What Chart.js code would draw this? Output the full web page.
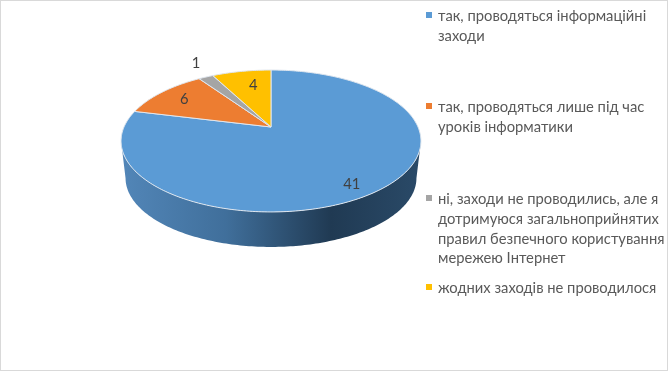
<!DOCTYPE html>
<html>
<head>
<meta charset="utf-8">
<script src="https://cdn.jsdelivr.net/npm/chart.js@4"></script>
<style>
  html, body { margin: 0; background: #fff; }
  #wrap { position: relative; width: 668px; height: 371px; overflow: hidden; }
  #wrap canvas { position: absolute; left: 0; top: 0; }
  #frame { position: absolute; left: 0; top: 0; width: 666px; height: 369px; border: 1px solid #d9d9d9; }
  .lg { position: absolute; left: 438px; font: 14.75px Lato, "Open Sans", sans-serif; color: #595959; line-height: 19.8px; white-space: nowrap; }
  .lg i { position: absolute; left: -12px; top: 6px; width: 6px; height: 6px; }
</style>
</head>
<body>
<div id="wrap">
  <canvas id="c" width="668" height="371"></canvas>
  <div id="frame"></div>
</div>
<script>
const categorias = [
  'так, проводяться інформаційні заходи',
  'так, проводяться лише під час уроків інформатики',
  'ні, заходи не проводились, але я дотримуюся загальноприйнятих правил безпечного користування мережею Інтернет',
  'жодних заходів не проводилося'
];
const valores = [41, 6, 1, 4];
const cores = ['#5b9bd5', '#ed7d31', '#a5a5a5', '#ffc000'];

// quebras de linha e topo de cada item da legenda
const linhasLegenda = [
  ['так, проводяться інформаційні', 'заходи'],
  ['так, проводяться лише під час', 'уроків інформатики'],
  ['ні, заходи не проводились, але я', 'дотримуюся загальноприйнятих', 'правил безпечного користування', 'мережею Інтернет'],
  ['жодних заходів не проводилося']
];
const topoLegenda = [6, 97, 189, 278];

// distancia radial de cada rotulo (1 = borda da pizza) e ajuste fino em px
const raioRotulo = [0.85, 0.78, 1.2, 0.7];
const ajusteRotulo = [[-8, 5], [0, 0], [1, -5.5], [4, -1]];

// perspectiva da tampa e da base
const tampa = { cx: 271, cy: 127, bx: 147, ay: 68.2, k: 0.197 };
const base = { cx: 271, cy: 164.5, bx: 142.6, ay: 66.2, k: 0.197 };
const angSilhueta = 0.2;

function projetar(p, ang, r) {
  const u = Math.cos(ang) * r, v = -Math.sin(ang) * r;
  const s = 1 / (1 + p.k * v);
  return [p.cx + p.bx * u * s, p.cy - p.ay * v * s];
}

function tracarArco(ctx, p, a0, a1) {
  const passos = Math.max(4, Math.ceil(Math.abs(a1 - a0) * 60));
  for (let i = 0; i <= passos; i++) {
    const [x, y] = projetar(p, a0 + (a1 - a0) * i / passos, 1);
    ctx.lineTo(x, y);
  }
}

const pizza3d = {
  id: 'pizza3d',
  beforeDatasetDraw(chart) {
    const ctx = chart.ctx;
    const arcos = chart.getDatasetMeta(0).data;

    // lateral: so a fatia azul aparece na frente
    const grad = ctx.createLinearGradient(121, 0, 421, 0);
    grad.addColorStop(0, '#5286b8');
    grad.addColorStop(0.35, '#406f9b');
    grad.addColorStop(0.7, '#203a53');
    grad.addColorStop(1, '#2a4a68');
    ctx.save();
    ctx.beginPath();
    tracarArco(ctx, tampa, angSilhueta, Math.PI - angSilhueta);
    tracarArco(ctx, base, Math.PI - angSilhueta, angSilhueta);
    ctx.closePath();
    ctx.fillStyle = grad;
    ctx.fill();

    // tampa, a partir dos angulos calculados pelo Chart.js
    arcos.forEach((el, i) => {
      ctx.beginPath();
      ctx.moveTo(tampa.cx, tampa.cy);
      tracarArco(ctx, tampa, el.startAngle, el.endAngle);
      ctx.closePath();
      ctx.fillStyle = cores[i];
      ctx.fill();
      ctx.strokeStyle = '#dfe6ee';
      ctx.lineWidth = 1;
      ctx.stroke();
    });

    ctx.font = '14.75px Lato, "Open Sans", sans-serif';
    ctx.fillStyle = '#404040';
    ctx.textAlign = 'center';
    ctx.textBaseline = 'middle';
    arcos.forEach((el, i) => {
      const [x, y] = projetar(tampa, (el.startAngle + el.endAngle) / 2, raioRotulo[i]);
      ctx.fillText(String(valores[i]), x + ajusteRotulo[i][0], y + ajusteRotulo[i][1]);
    });
    ctx.restore();
    return false;
  }
};

new Chart(document.getElementById('c'), {
  type: 'pie',
  data: {
    labels: categorias,
    datasets: [{ data: valores, backgroundColor: cores }]
  },
  options: {
    responsive: false,
    animation: false,
    plugins: { legend: { display: false }, tooltip: { enabled: false } }
  },
  plugins: [pizza3d]
});

const wrap = document.getElementById('wrap');
linhasLegenda.forEach((linhas, i) => {
  const d = document.createElement('div');
  d.className = 'lg';
  d.style.top = topoLegenda[i] + 'px';
  const m = document.createElement('i');
  m.style.background = cores[i];
  d.appendChild(m);
  linhas.forEach((t, j) => {
    if (j) d.appendChild(document.createElement('br'));
    d.appendChild(document.createTextNode(t));
  });
  wrap.appendChild(d);
});
</script>
</body>
</html>
